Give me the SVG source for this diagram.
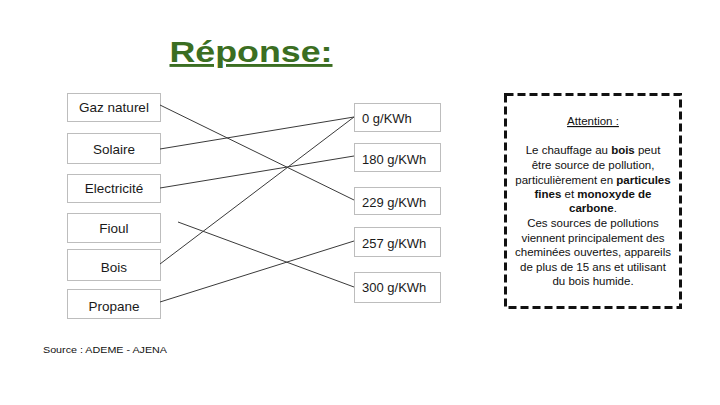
<svg xmlns="http://www.w3.org/2000/svg" width="720" height="405" viewBox="0 0 720 405">
<style>
.box{fill:#fff;stroke:#bdbdbd;stroke-width:1}
.lbl{font-family:"Liberation Sans",Arial,sans-serif;font-size:13px;fill:#1a1a1a}
.l{font-size:13.5px}
.c{text-anchor:middle}
.note{font-family:"Liberation Sans",Arial,sans-serif;font-size:11.5px;fill:#111;text-anchor:middle}
.b{font-weight:bold}
#connectors line{stroke:#3a3a3a;stroke-width:1}
</style>
<rect width="720" height="405" fill="#fff"/>
<text x="251" y="62" font-family="Liberation Sans,Arial,sans-serif" font-size="29" font-weight="bold" fill="#3b6e22" text-anchor="middle" text-decoration="underline" textLength="163" lengthAdjust="spacingAndGlyphs">Réponse:</text>

<g id="n-gaz"><rect class="box" x="67.5" y="93.5" width="93" height="28"/><text class="lbl l c" x="114" y="112">Gaz naturel</text></g>
<g id="n-solaire"><rect class="box" x="67.5" y="133.5" width="93" height="30"/><text class="lbl l c" x="114" y="154">Solaire</text></g>
<g id="n-elec"><rect class="box" x="67.5" y="174.5" width="93" height="28"/><text class="lbl l c" x="114" y="193">Electricité</text></g>
<g id="n-fioul"><rect class="box" x="67.5" y="213.5" width="93" height="29"/><text class="lbl l c" x="114" y="233">Fioul</text></g>
<g id="n-bois"><rect class="box" x="67.5" y="249.5" width="93" height="31"/><text class="lbl l c" x="114" y="272">Bois</text></g>
<g id="n-propane"><rect class="box" x="67.5" y="289.5" width="93" height="29"/><text class="lbl l c" x="114" y="311">Propane</text></g>

<g id="n-0"><rect class="box" x="354.5" y="103.5" width="86" height="28"/><text class="lbl" x="362" y="123">0 g/KWh</text></g>
<g id="n-180"><rect class="box" x="354.5" y="143.5" width="86" height="28"/><text class="lbl" x="362" y="164">180 g/KWh</text></g>
<g id="n-229"><rect class="box" x="354.5" y="187.5" width="86" height="27"/><text class="lbl" x="362" y="207">229 g/KWh</text></g>
<g id="n-257"><rect class="box" x="354.5" y="227.5" width="86" height="29"/><text class="lbl" x="362" y="248">257 g/KWh</text></g>
<g id="n-300"><rect class="box" x="354.5" y="272.5" width="86" height="30"/><text class="lbl" x="362" y="292">300 g/KWh</text></g>

<g id="connectors">
<line x1="160" y1="105" x2="354" y2="200"/>
<line x1="160" y1="149" x2="354" y2="117"/>
<line x1="160" y1="188" x2="354" y2="156"/>
<line x1="178" y1="222" x2="354" y2="287"/>
<line x1="160" y1="264" x2="354" y2="117"/>
<line x1="160" y1="302" x2="354" y2="241"/>
</g>

<g id="attention">
<rect x="505.5" y="94.5" width="175" height="213" fill="none" stroke="#111" stroke-width="3" stroke-dasharray="8 4"/>
<text class="note" x="593" y="125" text-decoration="underline">Attention :</text>
<text class="note" x="593" y="154">Le chauffage au <tspan class="b">bois</tspan> peut</text>
<text class="note" x="593" y="169">être source de pollution,</text>
<text class="note" x="593" y="184">particulièrement en <tspan class="b">particules</tspan></text>
<text class="note" x="593" y="198"><tspan class="b">fines</tspan> et <tspan class="b">monoxyde de</tspan></text>
<text class="note" x="593" y="212"><tspan class="b">carbone</tspan>.</text>
<text class="note" x="593" y="227">Ces sources de pollutions</text>
<text class="note" x="593" y="242">viennent principalement des</text>
<text class="note" x="593" y="256">cheminées ouvertes, appareils</text>
<text class="note" x="593" y="271">de plus de 15 ans et utilisant</text>
<text class="note" x="593" y="285">du bois humide.</text>
</g>

<text x="43" y="353" font-family="Liberation Sans,Arial,sans-serif" font-size="9.5" fill="#111" textLength="124" lengthAdjust="spacingAndGlyphs">Source : ADEME - AJENA</text>
</svg>
